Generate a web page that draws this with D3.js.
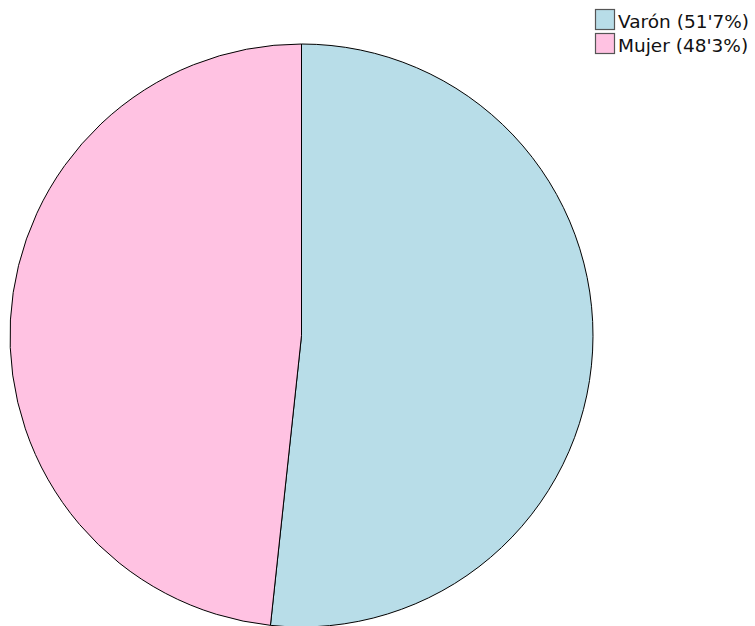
<!DOCTYPE html>
<html>
<head>
<meta charset="utf-8">
<script src="https://cdn.jsdelivr.net/npm/d3@7"></script>
<style>
  html, body { margin: 0; padding: 0; background: #fff; }
  svg { display: block; }
</style>
</head>
<body>
<svg id="chart" width="755" height="626"></svg>
<script>
// Sex distribution
const categories = ["Varón", "Mujer"];
const values = [51.7, 48.3];
const legendLabels = ["Varón (51'7%)", "Mujer (48'3%)"];
const colors = ["#b8dde8", "#ffc2e2"];

const svg = d3.select("#chart");
const cx = 301.5, cy = 335.5, r = 291.5;

const pie = d3.pie().sort(null).value(d => d.value);
const arc = d3.arc().innerRadius(0).outerRadius(r);
const data = categories.map((c, i) => ({ name: c, value: values[i] }));
const color = d3.scaleOrdinal().domain(categories).range(colors);

svg.append("g")
  .attr("transform", `translate(${cx},${cy})`)
  .selectAll("path")
  .data(pie(data))
  .join("path")
  .attr("d", arc)
  .attr("fill", d => color(d.data.name))
  .attr("stroke", "#000")
  .attr("stroke-width", 1)
  .attr("stroke-linejoin", "round");

// Legend
const legend = svg.append("g").attr("transform", "translate(595,9)");
const item = legend.selectAll("g")
  .data(categories)
  .join("g")
  .attr("transform", (d, i) => `translate(0,${i * 24})`);
item.append("rect")
  .attr("x", 0.5).attr("y", 0.5)
  .attr("width", 19).attr("height", 20)
  .attr("fill", d => color(d))
  .attr("stroke", "#555")
  .attr("stroke-width", 1.2);
item.append("text")
  .attr("x", 23).attr("y", 19)
  .attr("font-family", "DejaVu Sans, sans-serif")
  .attr("font-size", 18.5)
  .attr("fill", "#111")
  .text((d, i) => legendLabels[i]);
</script>
</body>
</html>
